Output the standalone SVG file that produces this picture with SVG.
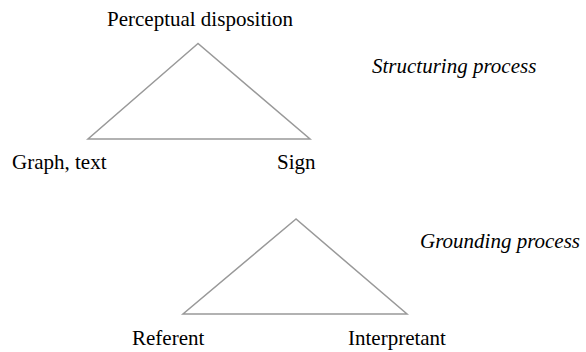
<svg xmlns="http://www.w3.org/2000/svg" width="586" height="352" viewBox="0 0 586 352">
<style>
text{font-family:"Liberation Serif","Times New Roman",serif;font-size:21px;fill:#000}
.it{font-style:italic}
.tri{fill:none;stroke:#999;stroke-width:1.5}
</style>
<rect width="586" height="352" fill="#fff"/>
<g id="connectors">
<polygon class="tri" points="198,43.5 88,139 310,139"/>
<polygon class="tri" points="296,219 183,314 407,314"/>
</g>
<g id="perceptual"><text x="107" y="26">Perceptual disposition</text></g>
<g id="graph"><text x="12" y="169">Graph, text</text></g>
<g id="sign"><text x="277" y="169">Sign</text></g>
<g id="structuring"><text class="it" x="372" y="72.5">Structuring process</text></g>
<g id="referent"><text x="132" y="345">Referent</text></g>
<g id="interpretant"><text x="348" y="345">Interpretant</text></g>
<g id="grounding"><text class="it" x="420" y="248">Grounding process</text></g>
</svg>
